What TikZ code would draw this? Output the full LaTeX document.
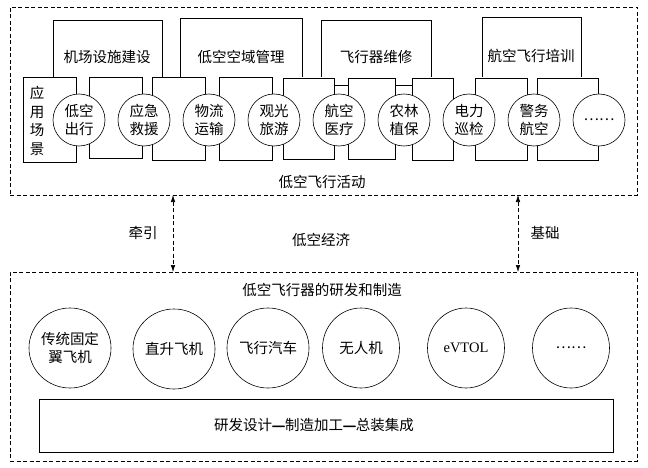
\documentclass[tikz,border=0pt]{standalone}
\usepackage{fontspec}
\setmainfont{Liberation Serif}
\newfontfamily\cjk{Noto Sans CJK SC}
\newfontfamily\cjkbold[FakeBold=4]{Noto Sans CJK SC}
\usetikzlibrary{arrows.meta,shapes.geometric}
\begin{document}
\begin{tikzpicture}[x=1pt,y=-1pt,line width=0.6pt,
  every node/.style={font=\cjk\fontsize{14.5}{17.5}\selectfont,inner sep=0pt,outer sep=0pt},
  dbox/.style={draw,dash pattern=on 4pt off 2.5pt},
  circ/.style={draw,circle,minimum size=52pt,fill=white,align=center},
  bcirc/.style={draw,ellipse,minimum width=77pt,minimum height=80pt,align=center},
  darrow/.style={dash pattern=on 4pt off 2.5pt,{Latex[length=7pt,width=4.5pt]}-{Latex[length=7pt,width=4.5pt]}}
]
\useasboundingbox (0,0) rectangle (648,468);

% outer dashed frames
\node[dbox,minimum width=627pt,minimum height=188pt] (top) at (323.5,101) {};
\node[dbox,minimum width=627pt,minimum height=189pt] (bot) at (323.5,366.5) {};

% upper boxes (open at the bottom)
\draw (53,77) |- (162,20) -- (162,77);
\draw (180,77) |- (302,18) -- (302,77);
\draw (321,77) |- (431,20) -- (431,77);
\draw (482,77) |- (581,17) -- (581,77);
\node (t1) at (107,57) {机场设施建设};
\node (t2) at (241,57) {低空空域管理};
\node (t3) at (376,57) {飞行器维修};
\node (t4) at (531,56) {航空飞行培训};

% lower boxes
\draw (23,77) rectangle (76,162);
\draw (89,77) rectangle (142,158);
\draw (152,77) rectangle (205,160);
\draw (219,77) rectangle (272,160);
\draw (283,78) rectangle (334,159);
\draw (348,78) rectangle (395,159);
\draw (412,78) rectangle (453,160);
\draw (475,78) rectangle (527,160);
\draw (537,78) rectangle (598,160);
\draw (334,85) -- (348,85);
\draw (395,85) -- (412,85);
\node[align=center,font=\cjk\fontsize{14.5}{18.5}\selectfont] (yy) at (37,121) {应\\用\\场\\景};

% scenario circles
\node[circ] (c1) at (79,120) {低空\\出行};
\node[circ] (c2) at (144,120) {应急\\救援};
\node[circ] (c3) at (209,120) {物流\\运输};
\node[circ] (c4) at (274,120) {观光\\旅游};
\node[circ] (c5) at (339,120) {航空\\医疗};
\node[circ] (c6) at (404,120) {农林\\植保};
\node[circ] (c7) at (469,120) {电力\\巡检};
\node[circ] (c8) at (534,120) {警务\\航空};
\node[circ] (c9) at (599,120) {……};

\node (act) at (322,182) {低空飞行活动};

% arrows between frames
\coordinate (ax1) at (173,0);
\coordinate (ax2) at (518,0);
\draw[darrow] (top.south -| ax1) -- (bot.north -| ax1);
\draw[darrow] (top.south -| ax2) -- (bot.north -| ax2);
\node (qy) at (143,233) {牵引};
\node (jc) at (545,233) {基础};
\node (eco) at (321,240) {低空经济};

% lower frame
\node (rd) at (322,290) {低空飞行器的研发和制造};
\node[bcirc] (b1) at (70,348) {传统固定\\翼飞机};
\node[bcirc] (b2) at (174,349) {直升飞机};
\node[bcirc] (b3) at (268,348) {飞行汽车};
\node[bcirc] (b4) at (361,348) {无人机};
\node[bcirc,font=\rmfamily\fontsize{14.5}{17}\selectfont] (b5) at (466,348) {eVTOL};
\node[bcirc] (b6) at (571,348) {……};
\node[draw,minimum width=574pt,minimum height=53pt] (chain) at (326,425.5) {};
\node (chaint) at (314,425) {研发设计{\cjkbold\fontsize{14.5}{17.5}\selectfont —}制造加工{\cjkbold\fontsize{14.5}{17.5}\selectfont —}总装集成};
\end{tikzpicture}
\end{document}
